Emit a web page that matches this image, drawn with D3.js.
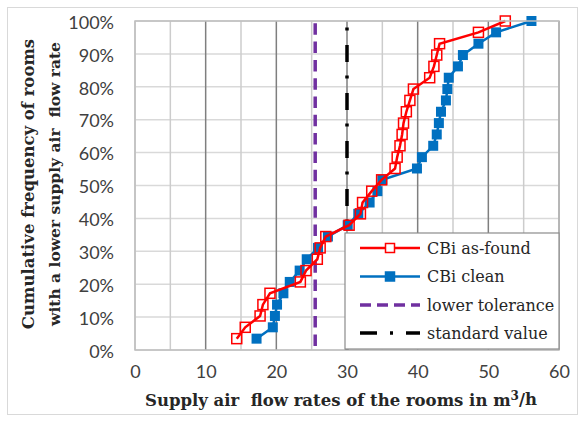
<!DOCTYPE html>
<html>
<head>
<meta charset="utf-8">
<script src="https://cdn.jsdelivr.net/npm/d3@7"></script>
<style>
  html, body { margin: 0; padding: 0; background: #fff; }
  svg { display: block; }
  text { white-space: pre; }
</style>
</head>
<body>
<svg id="chart" width="579" height="421"></svg>
<script>
// ---- data ----
const cumulativeFreq = d3.range(1, 30).map(i => i / 29);
const asFoundFlow = [14.4, 15.6, 17.7, 18.1, 19.1, 23.4, 24.2, 25.8, 26.2, 27.0,
                     30.3, 31.9, 32.2, 33.5, 34.9, 36.8, 37.1, 37.5, 37.8, 38.0,
                     38.4, 38.9, 39.4, 41.7, 42.3, 42.7, 43.1, 48.6, 52.4];
const cleanFlow   = [17.2, 19.5, 19.8, 20.1, 21.0, 21.9, 23.3, 24.3, 25.9, 27.3,
                     30.1, 31.6, 33.2, 34.3, 35.0, 39.9, 40.6, 42.2, 42.7, 43.0,
                     43.3, 44.0, 44.2, 44.4, 45.7, 46.4, 48.6, 51.1, 56.1];
const lowerTolerance = 25.5;
const standardValue = 30;
const xTicks = [0, 10, 20, 30, 40, 50, 60];
const yTicks = [0, 0.1, 0.2, 0.3, 0.4, 0.5, 0.6, 0.7, 0.8, 0.9, 1.0];
const seriesNames = ["CBi as-found", "CBi clean", "lower tolerance", "standard value"];
const colors = { red: "#ff0000", blue: "#0070c0", purple: "#7030a0", black: "#000000" };

const svg = d3.select("#chart");
const x = d3.scaleLinear().domain([0, 60]).range([135, 559]);
const y = d3.scaleLinear().domain([0, 1]).range([350, 21]);

// outer frame
svg.append("rect").attr("x", 7.5).attr("y", 7.5).attr("width", 570).attr("height", 407)
  .attr("fill", "#fff").attr("stroke", "#d9d9d9").attr("stroke-width", 1);

// grid
const g = svg.append("g");
g.selectAll("line.h").data(yTicks).join("line")
  .attr("x1", x(0)).attr("x2", x(60)).attr("y1", d => y(d)).attr("y2", d => y(d))
  .attr("stroke", "#d9d9d9").attr("stroke-width", 1.5);
g.selectAll("line.v").data(d3.range(0, 65, 5)).join("line")
  .attr("y1", y(0)).attr("y2", y(1)).attr("x1", d => x(d)).attr("x2", d => x(d))
  .attr("stroke", d => (d % 10 === 0 && d !== 0) ? "#7f7f7f" : "#cccccc")
  .attr("stroke-width", 1.5);

// axes labels (d3 axes)
const tickFont = "Lato, 'Noto Sans', sans-serif";
const xAxis = svg.append("g").attr("transform", `translate(0,${y(0) + 12})`)
  .call(d3.axisBottom(x).tickValues(xTicks).tickSize(0).tickFormat(d3.format("d")));
xAxis.select(".domain").remove();
xAxis.selectAll("text").attr("font-family", tickFont).attr("font-size", 18)
  .attr("fill", "#404040").attr("dy", "0.71em");

const yAxis = svg.append("g").attr("transform", `translate(${x(0) - 18},0)`)
  .call(d3.axisLeft(y).tickValues(yTicks).tickSize(0).tickFormat(d3.format(".0%")));
yAxis.select(".domain").remove();
yAxis.selectAll("text").attr("font-family", tickFont).attr("font-size", 18)
  .attr("fill", "#404040").attr("dy", "0.4em");

// reference lines
svg.append("line").attr("x1", x(standardValue)).attr("x2", x(standardValue))
  .attr("y1", y(1)).attr("y2", y(0)).attr("stroke", colors.black).attr("stroke-width", 3.5)
  .attr("stroke-dasharray", "17,13.5,3,14.5").attr("stroke-dashoffset", 24);
svg.append("line").attr("x1", x(lowerTolerance)).attr("x2", x(lowerTolerance))
  .attr("y1", y(1)).attr("y2", y(0)).attr("stroke", colors.purple).attr("stroke-width", 3.5)
  .attr("stroke-dasharray", "11.5,6.8").attr("stroke-dashoffset", 16);

// series
const line = d3.line().x(d => x(d[0])).y(d => y(d[1]));
const blueData = cleanFlow.map((v, i) => [v, cumulativeFreq[i]]);
const redData = asFoundFlow.map((v, i) => [v, cumulativeFreq[i]]);
const ms = 10;

svg.append("path").datum(blueData).attr("d", line).attr("fill", "none")
  .attr("stroke", colors.blue).attr("stroke-width", 2.5);
svg.selectAll("rect.blue").data(blueData).join("rect").attr("class", "blue")
  .attr("x", d => x(d[0]) - ms / 2).attr("y", d => y(d[1]) - ms / 2)
  .attr("width", ms).attr("height", ms).attr("fill", colors.blue);

svg.append("path").datum(redData).attr("d", line).attr("fill", "none")
  .attr("stroke", colors.red).attr("stroke-width", 2.5);
svg.selectAll("rect.red").data(redData).join("rect").attr("class", "red")
  .attr("x", d => x(d[0]) - ms / 2).attr("y", d => y(d[1]) - ms / 2)
  .attr("width", ms).attr("height", ms).attr("fill", "none")
  .attr("stroke", colors.red).attr("stroke-width", 1.5);

// plot border
svg.append("rect").attr("x", x(0)).attr("y", y(1)).attr("width", x(60) - x(0))
  .attr("height", y(0) - y(1)).attr("fill", "none").attr("stroke", "#bfbfbf").attr("stroke-width", 1.5);

// legend
const serif = "'DejaVu Serif', 'Liberation Serif', serif";
const lg = svg.append("g");
lg.append("rect").attr("x", 345).attr("y", 233).attr("width", 214).attr("height", 116)
  .attr("fill", "#fff").attr("stroke", "#8c8c8c").attr("stroke-width", 1.2);
const rowsY = [248, 276.5, 305, 333];
const styles = [
  { c: colors.red, dash: null, marker: "open" },
  { c: colors.blue, dash: null, marker: "fill" },
  { c: colors.purple, dash: "11,6", marker: null },
  { c: colors.black, dash: "17,13,3,13", marker: null }
];
seriesNames.forEach((name, i) => {
  const s = styles[i];
  const ln = lg.append("line").attr("x1", 360).attr("x2", 420).attr("y1", rowsY[i]).attr("y2", rowsY[i])
    .attr("stroke", s.c).attr("stroke-width", i >= 2 ? 3.5 : 2.5);
  if (s.dash) ln.attr("stroke-dasharray", s.dash);
  if (s.marker) {
    lg.append("rect").attr("x", 390 - 4.5).attr("y", rowsY[i] - 4.5).attr("width", 9).attr("height", 9)
      .attr("fill", s.marker === "fill" ? s.c : "#fff").attr("stroke", s.c).attr("stroke-width", 1.5);
  }
  lg.append("text").attr("x", 427).attr("y", rowsY[i]).attr("dy", "0.35em")
    .attr("font-family", serif).attr("font-size", 16).attr("fill", "#262626").text(name);
});

// axis titles
const xt = svg.append("text").attr("x", 341).attr("y", 400).attr("dy", "0.35em")
  .attr("text-anchor", "middle").attr("font-family", serif).attr("font-weight", "bold")
  .attr("font-size", 16.5).attr("fill", "#262626");
xt.append("tspan").text("Supply air  flow rates of the rooms in m");
xt.append("tspan").attr("font-size", 12).attr("dy", "-0.45em").text("3");
xt.append("tspan").attr("dy", "0.3em").text("/h");

const yt = svg.append("g").attr("transform", "translate(28,184) rotate(-90)");
yt.append("text").attr("x", 0).attr("y", 0).attr("dy", "0.35em").attr("text-anchor", "middle")
  .attr("font-family", serif).attr("font-weight", "bold").attr("font-size", 16.5).attr("fill", "#262626")
  .text("Cumulative frequency of rooms");
yt.append("text").attr("x", 0).attr("y", 27).attr("dy", "0.35em").attr("text-anchor", "middle")
  .attr("font-family", serif).attr("font-weight", "bold").attr("font-size", 15.5).attr("fill", "#262626")
  .text("with a lower supply air  flow rate");
</script>
</body>
</html>
